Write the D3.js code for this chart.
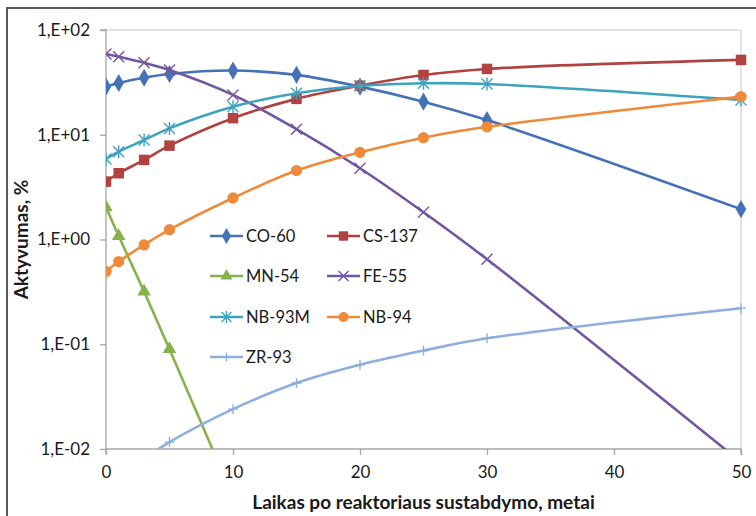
<!DOCTYPE html>
<html><head><meta charset="utf-8">
<script src="https://cdn.jsdelivr.net/npm/d3@7"></script>
<style>body{margin:0;background:#fff;}svg{display:block;}</style>
</head><body>
<svg id="chart" width="756" height="516"></svg>
<script>
const years = [0, 1, 3, 5, 10, 15, 20, 25, 30, 50];
const seriesNames = ["CO-60", "CS-137", "MN-54", "FE-55", "NB-93M", "NB-94", "ZR-93"];
const co60   = [28.8, 31.2, 35.0, 38.0, 41.0, 37.3, 28.8, 20.7, 13.8, 1.95];
const cs137  = [3.57, 4.29, 5.75, 7.87, 14.4, 22.0, 29.4, 37.2, 42.5, 51.8];
const mn54   = [2.03, 1.08, 0.318, 0.0897, 0.0035, 0.00014, null, null, null, null];
const fe55   = [59.0, 55.6, 48.7, 41.5, 24.0, 11.3, 4.79, 1.82, 0.648, 0.0075];
const nb93m  = [5.88, 6.9, 8.9, 11.5, 18.5, 24.9, 29.2, 31.0, 30.5, 21.5];
const nb94   = [0.494, 0.616, 0.887, 1.24, 2.49, 4.55, 6.8, 9.37, 11.9, 23.1];
const zr93   = [0.0047, 0.00578, 0.0081, 0.01164, 0.024, 0.0426, 0.0636, 0.087, 0.114, 0.221];
const yTicks = [0.01, 0.1, 1, 10, 100];
const yTickLabels = ["1,E-02", "1,E-01", "1,E+00", "1,E+01", "1,E+02"];
const xTicks = [0, 10, 20, 30, 40, 50];
const xTitle = "Laikas po reaktoriaus sustabdymo, metai";
const yTitle = "Aktyvumas, %";

const colors = ["#4472B4", "#B0423F", "#86B24B", "#7256A0", "#3FA3BF", "#EE8A3A", "#8EAEDC"];
const markers = ["diamond", "square", "triangle", "x", "asterisk", "circle", "plus"];
const values = [co60, cs137, mn54, fe55, nb93m, nb94, zr93];

const svg = d3.select("#chart");
const font = "Lato, 'Open Sans', sans-serif";

// outer frame
svg.append("rect").attr("x", 7).attr("y", 8).attr("width", 800).attr("height", 600)
  .attr("fill", "none").attr("stroke", "#595959").attr("stroke-width", 2);

const L = 106, R = 741, T = 30, B = 449;
const x = d3.scaleLinear().domain([0, 50]).range([L, R]);
const y = d3.scaleLog().domain([0.01, 100]).range([B, T]);

// plot border (top/right)
svg.append("path").attr("d", `M${L},${T}H${R}V${B}`).attr("fill", "none")
  .attr("stroke", "#C8C8C8").attr("stroke-width", 1);

// axes
const xAxis = d3.axisBottom(x).tickValues(xTicks).tickSize(6).tickPadding(11).tickFormat(d3.format("d"));
const gx = svg.append("g").attr("transform", `translate(0,${B})`).call(xAxis);
const yAxis = d3.axisLeft(y).tickValues(yTicks).tickSize(6).tickPadding(10)
  .tickFormat((d, i) => yTickLabels[i]);
const gy = svg.append("g").attr("transform", `translate(${L},0)`).call(yAxis);
[gx, gy].forEach(g => {
  g.select(".domain").attr("stroke", "#A6A6A6").attr("stroke-width", 1.3);
  g.selectAll(".tick line").attr("stroke", "#A6A6A6").attr("stroke-width", 1.3);
  g.selectAll(".tick text").attr("font-family", font).attr("font-size", 17).attr("fill", "#1a1a1a");
});
gx.select(".domain").attr("d", `M${L},6V0H${R}V6`);
gy.select(".domain").attr("d", `M-6,${T}H0V${B}`);

// titles
svg.append("text").attr("x", (L + R) / 2).attr("y", 509).attr("text-anchor", "middle")
  .attr("font-family", font).attr("font-weight", "bold").attr("font-size", 19).attr("fill", "#1a1a1a")
  .text(xTitle);
svg.append("text").attr("transform", `translate(28,${(T + B) / 2}) rotate(-90)`).attr("text-anchor", "middle")
  .attr("font-family", font).attr("font-weight", "bold").attr("font-size", 19).attr("fill", "#1a1a1a")
  .text(yTitle);

svg.append("clipPath").attr("id", "clip").append("rect")
  .attr("x", L).attr("y", T - 12).attr("width", R - L + 14).attr("height", B - T + 12);

function drawMarker(g, type, color, cx, cy, scale) {
  const s = scale || 1;
  if (type === "diamond") {
    g.append("path").attr("d", d3.symbol(d3.symbolDiamond, 95 * s)()).attr("transform", `translate(${cx},${cy})`).attr("fill", color);
  } else if (type === "square") {
    g.append("path").attr("d", d3.symbol(d3.symbolSquare, 110 * s)()).attr("transform", `translate(${cx},${cy})`).attr("fill", color);
  } else if (type === "triangle") {
    g.append("path").attr("d", d3.symbol(d3.symbolTriangle, 80 * s)()).attr("transform", `translate(${cx},${cy})`).attr("fill", color);
  } else if (type === "circle") {
    g.append("path").attr("d", d3.symbol(d3.symbolCircle, 100 * s)()).attr("transform", `translate(${cx},${cy})`).attr("fill", color);
  } else if (type === "x") {
    const r = 5.5 * Math.sqrt(s);
    g.append("path").attr("d", `M${cx - r},${cy - r}L${cx + r},${cy + r}M${cx - r},${cy + r}L${cx + r},${cy - r}`)
      .attr("stroke", color).attr("stroke-width", 1.4);
  } else if (type === "asterisk") {
    const r = 5.5 * Math.sqrt(s);
    g.append("path").attr("d", `M${cx - r},${cy - r}L${cx + r},${cy + r}M${cx - r},${cy + r}L${cx + r},${cy - r}M${cx},${cy - r - 1}V${cy + r + 1}`)
      .attr("stroke", color).attr("stroke-width", 1.4);
  } else if (type === "plus") {
    const r = 5 * Math.sqrt(s);
    g.append("path").attr("d", `M${cx - r},${cy}H${cx + r}M${cx},${cy - r}V${cy + r}`)
      .attr("stroke", color).attr("stroke-width", 1.4);
  }
}

const plot = svg.append("g").attr("clip-path", "url(#clip)");
const line = d3.line().defined(d => d[1] != null).x(d => x(d[0])).y(d => y(d[1]))
  .curve(d3.curveCatmullRom.alpha(0.5));

values.forEach((vals, i) => {
  const pts = years.map((t, j) => [t, vals[j]]);
  const g = plot.append("g");
  g.append("path").datum(pts).attr("d", line).attr("fill", "none")
    .attr("stroke", colors[i]).attr("stroke-width", 2.6);
  pts.forEach(p => {
    if (p[1] == null) return;
    drawMarker(g, markers[i], colors[i], x(p[0]), y(p[1]));
  });
});

// legend
const legCols = [210, 327];
const legRows = [236, 276, 317, 357];
seriesNames.forEach((name, i) => {
  const col = i % 2, row = Math.floor(i / 2);
  const lx = legCols[col], ly = legRows[row];
  const g = svg.append("g");
  g.append("line").attr("x1", lx).attr("x2", lx + 33).attr("y1", ly).attr("y2", ly)
    .attr("stroke", colors[i]).attr("stroke-width", 2.6);
  drawMarker(g, markers[i], colors[i], lx + 16.5, ly, 0.8);
  g.append("text").attr("x", lx + 36).attr("y", ly).attr("dy", "0.35em")
    .attr("font-family", font).attr("font-size", 16.5).attr("fill", "#1a1a1a").text(name);
});
</script>
</body></html>
